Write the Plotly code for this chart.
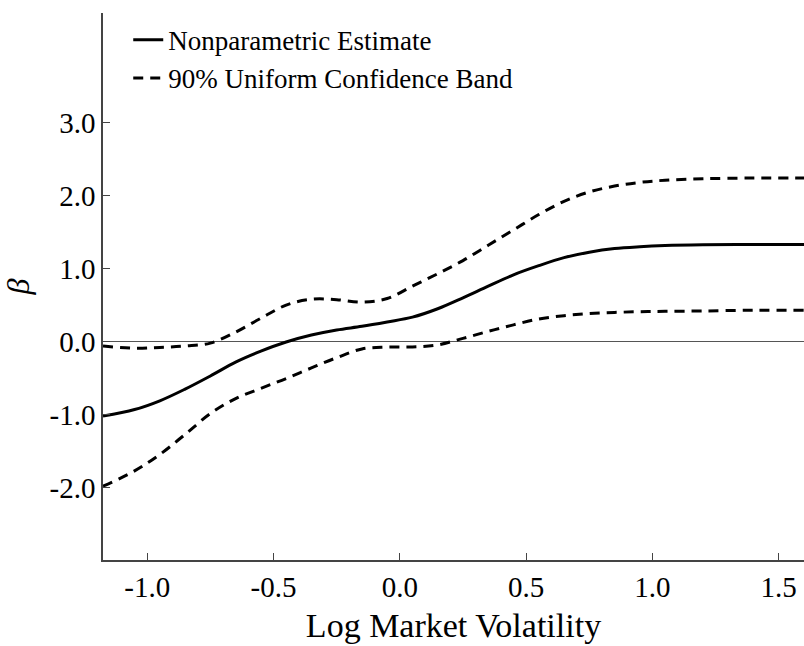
import plotly.graph_objects as go

# ---- data ----
log_vol = [-1.175, -1.05, -0.95, -0.85, -0.75, -0.65, -0.55, -0.45, -0.35, -0.25,
           -0.15, -0.05, 0.05, 0.15, 0.25, 0.35, 0.45, 0.55, 0.65, 0.75,
           0.85, 0.95, 1.05, 1.2, 1.4, 1.6]

beta_est = [-1.02, -0.93, -0.81, -0.65, -0.47, -0.28, -0.13, -0.005, 0.09, 0.16,
            0.21, 0.27, 0.335, 0.45, 0.60, 0.76, 0.915, 1.04, 1.15, 1.225,
            1.275, 1.30, 1.315, 1.325, 1.33, 1.33]

band_upper = [-0.06, -0.09, -0.08, -0.06, -0.02, 0.13, 0.32, 0.50, 0.58, 0.575,
              0.54, 0.59, 0.76, 0.93, 1.11, 1.32, 1.53, 1.74, 1.92, 2.05,
              2.13, 2.18, 2.21, 2.23, 2.24, 2.24]

band_lower = [-1.98, -1.77, -1.545, -1.27, -0.985, -0.78, -0.64, -0.505, -0.36, -0.22,
              -0.10, -0.075, -0.072, -0.045, 0.045, 0.14, 0.23, 0.31, 0.355, 0.385,
              0.40, 0.41, 0.415, 0.42, 0.43, 0.43]

x_tickvals = [-1.0, -0.5, 0.0, 0.5, 1.0, 1.5]
x_ticktext = ["-1.0", "-0.5", "0.0", "0.5", "1.0", "1.5"]
y_tickvals = [-2, -1, 0, 1, 2, 3]
y_ticktext = ["-2.0", "-1.0", "0.0", "1.0", "2.0", "3.0"]

name_est = "Nonparametric Estimate"
name_band = "90% Uniform Confidence Band"

FONT = "Liberation Serif"
AXIS_COLOR = "#444444"

fig = go.Figure()

fig.add_trace(go.Scatter(
    x=log_vol, y=beta_est, mode="lines", name=name_est,
    line=dict(color="black", width=3, shape="spline", smoothing=1.0),
))
fig.add_trace(go.Scatter(
    x=log_vol, y=band_upper, mode="lines", name=name_band,
    line=dict(color="black", width=3, dash="10px,7px", shape="spline", smoothing=1.0),
))
fig.add_trace(go.Scatter(
    x=log_vol, y=band_lower, mode="lines", name=name_band, showlegend=False,
    line=dict(color="black", width=3, dash="10px,7px", shape="spline", smoothing=1.0),
))

fig.update_layout(
    width=804, height=646,
    margin=dict(l=103, r=0, t=13, b=86),
    paper_bgcolor="white", plot_bgcolor="white",
    font=dict(family=FONT, color="black"),
    showlegend=True,
    legend=dict(
        x=0.036, y=0.995, xanchor="left", yanchor="top",
        bgcolor="rgba(0,0,0,0)", borderwidth=0,
        font=dict(family=FONT, size=27, color="black"),
        tracegroupgap=0, itemwidth=30,
    ),
)

fig.update_xaxes(
    range=[-1.175, 1.6],
    tickmode="array", tickvals=x_tickvals, ticktext=x_ticktext,
    ticks="inside", ticklen=7, tickwidth=1.2, tickcolor=AXIS_COLOR,
    showline=True, linecolor=AXIS_COLOR, linewidth=1.5,
    showgrid=False, zeroline=False, mirror=False,
    tickfont=dict(family=FONT, size=29, color="black"),
    ticklabelstandoff=0,
    title=dict(text="Log Market Volatility", font=dict(family=FONT, size=34, color="black"),
               standoff=12),
)

fig.update_yaxes(
    range=[-2.99, 4.5],
    tickmode="array", tickvals=y_tickvals, ticktext=y_ticktext,
    ticks="inside", ticklen=7, tickwidth=1.2, tickcolor=AXIS_COLOR,
    showline=True, linecolor=AXIS_COLOR, linewidth=1.5,
    showgrid=False, zeroline=True, zerolinecolor="#555555", zerolinewidth=1.2,
    mirror=False,
    tickfont=dict(family=FONT, size=29, color="black"),
    ticklabelstandoff=0,
    title=dict(text="<i>β</i>", font=dict(family=FONT, size=32, color="black"),
               standoff=10),
)

fig.write_html("out.html")
